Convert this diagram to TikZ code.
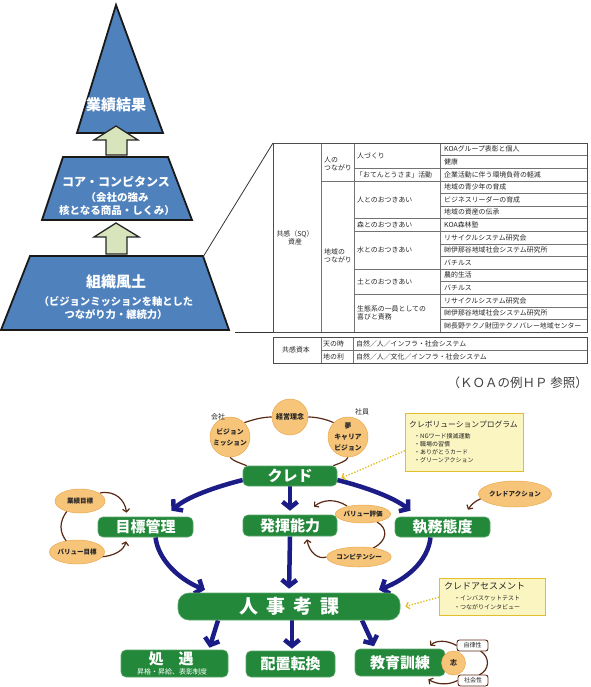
\documentclass[tikz,border=0pt]{standalone}
\usepackage{fontspec}
\setmainfont{Noto Sans CJK JP}
\usetikzlibrary{arrows.meta,shapes.geometric,backgrounds}
\definecolor{pyr}{HTML}{4F81BD}
\definecolor{arrfill}{HTML}{D8E4BC}
\definecolor{grn}{HTML}{23883A}
\definecolor{navy}{HTML}{1C1C87}
\definecolor{org}{HTML}{F7C57A}
\definecolor{orgd}{HTML}{E9A84C}
\definecolor{brn}{HTML}{5B2815}
\definecolor{ylw}{HTML}{E3BE2C}
\definecolor{cfill}{HTML}{FBF5C2}
\newcommand\fsz[1]{\fontsize{#1}{#1}\selectfont}
\tikzset{
  pyrshape/.style={fill=pyr, draw=black!90, line width=1.8pt, line join=miter},
  blockarrow/.style={fill=arrfill, draw=black!85, line width=1.3pt, line join=miter},
  tline/.style={draw=black!55, line width=0.6pt},
  toutline/.style={draw=black!70, line width=0.8pt},
  ttext/.style={anchor=west, font=\fsz{6.9}, text=black!85},
  gbox/.style={rectangle, rounded corners=5pt, fill=grn, draw=grn!75!white, line width=0.6pt, text=white, font=\bfseries\fsz{15}},
  oval/.style={ellipse, fill=org, draw=orgd, line width=0.5pt, font=\bfseries\fsz{6.5}, text=black!85},
  circ/.style={circle, fill=org, draw=orgd, line width=0.5pt, align=center, font=\bfseries\fontsize{6.8}{11}\selectfont, text=black!85},
  smallbox/.style={rectangle, rounded corners=2.5pt, draw=brn, line width=0.9pt, fill=white, font=\fsz{6}, text=black!85},
  callout/.style={rectangle, draw=ylw, fill=cfill, line width=1.3pt},
  bigarr/.style={draw=navy, line width=4.5pt, -{Straight Barb[length=6pt,width=15pt]}},
  brarr/.style={draw=brn, line width=1.2pt, -{Straight Barb[length=3pt,width=7pt]}},
  brline/.style={draw=brn, line width=1.2pt},
  dotarr/.style={draw=ylw, line width=1.4pt, dash pattern=on 1.4pt off 1.6pt, -{Straight Barb[length=3pt,width=7pt]}},
  every node/.style={inner sep=0pt}
}
\begin{document}
\begin{tikzpicture}[x=1pt,y=1pt]
\useasboundingbox (0,0) rectangle (590,-687);

% ---------- pyramid ----------
\draw[pyrshape] (116,-5) -- (163,-133) -- (77,-133) -- cycle;
\draw[pyrshape] (63,-157) -- (168,-157) -- (192,-220) -- (42,-220) -- cycle;
\draw[pyrshape] (30,-256) -- (203,-256) -- (229,-330) -- (1,-330) -- cycle;
\draw[blockarrow] (106,-155) -- (106,-140) -- (94,-140) -- (116,-126) -- (138,-140) -- (127,-140) -- (127,-155) -- cycle;
\draw[blockarrow] (106,-254) -- (106,-237) -- (94,-237) -- (116,-223) -- (139,-237) -- (127,-237) -- (127,-254) -- cycle;
\node[text=white, font=\bfseries\fsz{15}] (p1) at (116,-105) {業績結果};
\node[text=white, font=\bfseries\fsz{12}] (p2) at (116,-182) {コア・コンピタンス};
\node[text=white, font=\bfseries\fontsize{10.5}{13}\selectfont, align=center] (p2s) at (117,-204.5) {（会社の強み\\核となる商品・しくみ）};
\node[text=white, font=\bfseries\fsz{15}] (p3) at (116,-282) {組織風土};
\node[text=white, font=\bfseries\fontsize{10.3}{12.5}\selectfont, align=center] (p3s) at (116,-308) {（ビジョンミッションを軸とした\\つながり力・継続力）};
\draw[black!80, line width=0.8pt] (203,-257) -- (273,-143);
\draw[black!80, line width=0.8pt] (235,-332) -- (273,-332);

% ---------- table 1 ----------
\draw[tline] (321,-143) -- (321,-332);
\draw[tline] (354,-143) -- (354,-332);
\draw[tline] (440,-143) -- (440,-332);
\foreach \i in {1,...,14} \draw[tline] (440,{-143-12.6*\i}) -- (587,{-143-12.6*\i});
\foreach \i in {2,3,6,7,10,12} \draw[tline] (354,{-143-12.6*\i}) -- (440,{-143-12.6*\i});
\draw[tline] (321,{-143-12.6*3}) -- (354,{-143-12.6*3});
\draw[toutline] (273,-143) rectangle (587,-332);
\foreach \t [count=\i] in {KOAグループ表彰と個人, 健康, 企業活動に伴う環境負荷の軽減, 地域の青少年の育成, ビジネスリーダーの育成, 地域の資産の伝承, KOA森林塾, リサイクルシステム研究会, ㈶伊那谷地域社会システム研究所, バチルス, 農的生活, バチルス, リサイクルシステム研究会, ㈶伊那谷地域社会システム研究所, ㈶長野テクノ財団テクノバレー地域センター}
  \node[ttext] (c4r\i) at (444,{-143-12.6*(\i-0.5)}) {\t};
\node[ttext] (c3a) at (357,{-143-12.6*1}) {人づくり};
\node[ttext] (c3b) at (356,{-143-12.6*2.5}) {「おてんとうさま」活動};
\node[ttext] (c3c) at (357,{-143-12.6*4.5}) {人とのおつきあい};
\node[ttext] (c3d) at (357,{-143-12.6*6.5}) {森とのおつきあい};
\node[ttext] (c3e) at (357,{-143-12.6*8.5}) {水とのおつきあい};
\node[ttext] (c3f) at (357,{-143-12.6*11}) {土とのおつきあい};
\node[ttext, align=left, font=\fontsize{6.9}{7.6}\selectfont] (c3g) at (357,{-143-12.6*13.5}) {生態系の一員としての\\喜びと責務};
\node[ttext, align=left, font=\fontsize{6.9}{7.6}\selectfont] (c2a) at (324,-164) {人の\\つながり};
\node[ttext, align=left, font=\fontsize{6.9}{7.6}\selectfont] (c2b) at (324,-256) {地域の\\つながり};
\node[font=\fontsize{6.9}{8.5}\selectfont, text=black!85, align=center] (c1) at (295,-238) {共感（SQ）\\資産};

% ---------- table 2 ----------
\draw[tline] (321,-337) -- (321,-363);
\draw[tline] (353,-337) -- (353,-363);
\draw[tline] (321,-350) -- (587,-350);
\draw[toutline] (273,-337) rectangle (587,-363);
\node[font=\fsz{6.9}, text=black!85] (k1) at (296,-350) {共感資本};
\node[ttext] (k2) at (323,-343.5) {天の時};
\node[ttext] (k3) at (323,-356.5) {地の利};
\node[ttext] (k4) at (356,-343.5) {自然／人／インフラ・社会システム};
\node[ttext] (k5) at (356,-356.5) {自然／人／文化／インフラ・社会システム};
\node[anchor=east, font=\fsz{12.5}, text=black!75] (ref) at (588,-383) {（ＫＯＡの例ＨＰ 参照）};

% ---------- bottom diagram: nodes ----------
\node[gbox, minimum width=94pt, minimum height=20pt] (cred) at (290,-476) {クレド};
\node[gbox, minimum width=95pt, minimum height=20pt] (mok) at (145.5,-527) {目標管理};
\node[gbox, minimum width=94pt, minimum height=21pt] (hak) at (290,-525.5) {発揮能力};
\node[gbox, minimum width=95pt, minimum height=20pt] (shitsu) at (442.5,-527) {執務態度};
\node[gbox, rounded corners=11pt, minimum width=222pt, minimum height=27pt, font=\bfseries\fsz{19}] (jinji) at (289,-606.5) {人\hspace{8pt}事\hspace{8pt}考\hspace{8pt}課};
\node[gbox, minimum width=107pt, minimum height=27pt] (shogu) at (174.5,-663.5) {};
\node[text=white, font=\bfseries\fsz{15}] (shoguT) at (171,-658.5) {処\hspace{15pt}遇};
\node[text=white, font=\fsz{7}] (shoguS) at (172,-671.5) {昇格・昇給、表彰制度};
\node[gbox, minimum width=89pt, minimum height=26pt] (haichi) at (290.5,-664) {配置転換};
\node[gbox, minimum width=90pt, minimum height=27pt] (kyoiku) at (400,-662.5) {教育訓練};

\node[circ, minimum size=40pt] (vm) at (230,-437) {ビジョン\\ミッション};
\node[circ, minimum size=36pt, font=\bfseries\fsz{7}] (rinen) at (290,-417) {経営理念};
\node[circ, minimum size=40pt] (yume) at (348,-437) {夢\\キャリア\\ビジョン};
\node[font=\fsz{7}, text=black!85] (kaisha) at (218,-417) {会社};
\node[font=\fsz{7}, text=black!85] (shain) at (362,-412) {社員};

\node[oval, minimum width=50pt, minimum height=24pt] (gyo) at (80,-501) {業績目標};
\node[oval, minimum width=48pt, minimum height=24pt] (val) at (77,-552) {バリュー目標};
\node[oval, minimum width=44pt, minimum height=18pt] (vhy) at (363,-514) {バリュー評価};
\node[oval, minimum width=54pt, minimum height=20pt] (cmp) at (359,-557) {コンピテンシー};
\node[oval, minimum width=60pt, minimum height=26pt] (cact) at (515,-494) {クレドアクション};
\node[circ, minimum size=24pt, font=\bfseries\fsz{7}] (kokoro) at (453.5,-663) {志};
\node[smallbox, minimum width=31pt, minimum height=11pt] (jir) at (472.5,-645.5) {自律性};
\node[smallbox, minimum width=30pt, minimum height=11pt] (sha) at (473,-680.5) {社会性};

\node[callout, minimum width=118pt, minimum height=58pt, anchor=north west] (cb1) at (405,-413) {};
\node[anchor=west, font=\fsz{7.8}, text=black!85] (cb1t) at (409,-424) {クレボリューションプログラム};
\node[anchor=north west, align=left, font=\fontsize{6}{8.1}\selectfont, text=black!85] (cb1i) at (414,-433) {・NGワード撲滅運動\\・職場の習慣\\・ありがとうカード\\・グリーンアクション};
\node[callout, minimum width=106pt, minimum height=37pt, anchor=north west] (cb2) at (439,-578) {};
\node[anchor=west, font=\fsz{9}, text=black!85] (cb2t) at (444,-586.5) {クレドアセスメント};
\node[anchor=north west, align=left, font=\fontsize{6}{9}\selectfont, text=black!85] (cb2i) at (454,-595) {・インバスケットテスト\\・つながりインタビュー};

% ---------- connectors ----------
\begin{pgfonlayer}{background}
% ring around the credo
\draw[brline] ([xshift=4pt]cred.north west) .. controls (240,-463) and (233,-461) .. (vm.south);
\draw[brline] (vm.45) .. controls (252,-420) and (262,-417) .. (rinen.west);
\draw[brline] (rinen.east) .. controls (318,-417) and (328,-420) .. (yume.135);
\draw[brline] (yume.south) .. controls (347,-461) and (340,-463) .. ([xshift=-4pt]cred.north east);
% navy arrows
\draw[bigarr] ([yshift=-4pt]cred.west) .. controls (215,-487) and (187,-497) .. ([shift={(26,6)}]mok.north);
\draw[bigarr] ([yshift=-4pt]cred.east) .. controls (365,-487) and (393,-497) .. ([shift={(-32,6)}]shitsu.north);
\draw[bigarr, shorten >=4pt] (cred.south) -- (hak.north);
\draw[bigarr] ([xshift=10pt]mok.south) .. controls (158,-560) and (180,-580) .. ([shift={(-84,3)}]jinji.north);
\draw[bigarr, shorten >=4pt] (hak.south) -- (jinji.north);
\draw[bigarr] ([xshift=-12pt]shitsu.south) .. controls (428,-562) and (405,-580) .. ([shift={(90,3)}]jinji.north);
\draw[bigarr] ([xshift=-71pt]jinji.south) -- ([shift={(35,2)}]shogu.north);
\draw[bigarr] ([xshift=3pt]jinji.south) -- ([shift={(1.5,2)}]haichi.north);
\draw[bigarr] ([xshift=73pt]jinji.south) -- ([shift={(-26,2.5)}]kyoiku.north);
% brown arrows
\draw[brarr] ([shift={(20,8)}]gyo.center) .. controls (115,-490) and (125,-500) .. ([shift={(-19,4)}]mok.north);
\draw[brarr] ([shift={(23,-5)}]val.center) .. controls (115,-556) and (124,-550) .. ([shift={(-19.5,-4)}]mok.south);
\draw[brline] ([shift={(-13,-10)}]gyo.center) .. controls (59,-522) and (59,-532) .. ([shift={(-10,10)}]val.center);
\draw[brarr] ([shift={(-16,8)}]vhy.center) .. controls (335,-498) and (322,-500) .. ([shift={(24,8)}]hak.north);
\draw[brarr] (cmp.west) .. controls (318,-560) and (309,-552) .. ([shift={(17,-3)}]hak.south);
\draw[brline] ([shift={(14,-8)}]vhy.center) .. controls (388,-528) and (388,-541) .. ([shift={(14,9)}]cmp.center);
\draw[brarr] ([shift={(-29,-3)}]cact.center) .. controls (478,-499) and (472,-503) .. ([shift={(25.5,7)}]shitsu.north);
\draw[brarr] (jir.west) .. controls (447,-640) and (436,-640) .. ([shift={(-15,3)}]kyoiku.north east);
\draw[brarr] (sha.west) .. controls (447,-686) and (436,-684) .. ([shift={(-17,-3)}]kyoiku.south east);
\draw[brline] ([shift={(8,-5.5)}]jir.center) .. controls (490,-657) and (490,-670) .. ([shift={(6,5.5)}]sha.center);
% dotted callout pointers
\draw[dotarr] ([yshift=-8pt]cb1.west) -- ([shift={(4,-2)}]cred.east);
\draw[dotarr] (cb2.west) -- ([xshift=5pt]jinji.east);
\end{pgfonlayer}
\end{tikzpicture}
\end{document}
